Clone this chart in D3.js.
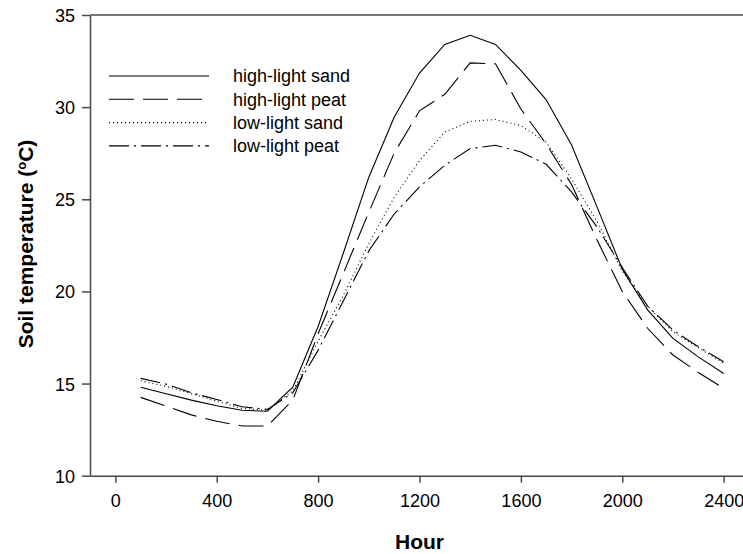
<!DOCTYPE html>
<meta charset="utf-8">
<style>
  body { margin: 0; background: #fff; }
  text { font-family: "Liberation Sans", Arial, sans-serif; fill: #000; }
  .tick text { font-size: 18px; }
  .axis path, .axis line { stroke: #4a4a4a; stroke-width: 1.5px; }
  .title { font-size: 21px; font-weight: bold; }
  .legend text { font-size: 18px; }
  .series { fill: none; stroke: #000; stroke-width: 1.1px; }
</style>
<body>
<script src="https://d3js.org/d3.v7.min.js"></script>
<script>
  // hours of the day (24h clock)
  var hours = [100, 200, 300, 400, 500, 600, 700, 800, 900, 1000, 1100, 1200,
               1300, 1400, 1500, 1600, 1700, 1800, 1900, 2000, 2100, 2200, 2300, 2400];

  // soil temperature, deg C
  var highSand = [14.8, 14.45, 14.1, 13.8, 13.55, 13.5, 14.8, 18.1, 22.1, 26.2, 29.45, 31.85,
                  33.4, 33.9, 33.4, 32.0, 30.4, 27.95, 24.6, 21.2, 19.0, 17.45, 16.45, 15.55];
  var highPeat = [14.25, 13.78, 13.3, 12.95, 12.7, 12.7, 14.1, 17.7, 21.0, 24.3, 27.5, 29.8,
                  30.7, 32.4, 32.35, 29.9, 28.0, 25.8, 22.8, 20.0, 18.0, 16.55, 15.6, 14.75];
  var lowSand  = [15.15, 14.85, 14.45, 14.05, 13.65, 13.55, 14.6, 17.3, 19.8, 22.6, 25.1, 27.1,
                  28.65, 29.23, 29.33, 29.0, 28.1, 26.1, 23.8, 21.1, 19.2, 17.8, 16.95, 16.1];
  var lowPeat  = [15.28, 14.97, 14.5, 14.14, 13.74, 13.6, 14.5, 16.8, 19.5, 22.2, 24.2, 25.67,
                  26.85, 27.75, 27.93, 27.57, 26.9, 25.4, 23.5, 21.3, 19.2, 17.9, 17.0, 16.18];

  var seriesNames = ["high-light sand", "high-light peat", "low-light sand", "low-light peat"];
  var seriesDash = [null, "25,9", "1,3", "20,5,2,5"];

  var xTicks = [0, 400, 800, 1200, 1600, 2000, 2400];
  var yTicks = [10, 15, 20, 25, 30, 35];

  var width = 743, height = 554;
  var margin = { top: 15, left: 90, bottom: 78 };

  var svg = d3.select("body").append("svg")
    .attr("width", width)
    .attr("height", height);

  // x runs a bit past 2400, the right edge of the frame is cut off by the window
  var x = d3.scaleLinear().domain([-100, 2500]).range([margin.left, 749]);
  var y = d3.scaleLinear().domain([10, 35]).range([height - margin.bottom - 0.3, margin.top]);

  // top frame line
  svg.append("line")
    .attr("x1", margin.left).attr("x2", 749)
    .attr("y1", y(35)).attr("y2", y(35))
    .attr("stroke", "#4a4a4a").attr("stroke-width", 1.5);

  var xAxis = svg.append("g")
    .attr("class", "axis")
    .attr("transform", "translate(0," + y(10) + ")")
    .call(d3.axisBottom(x).tickValues(xTicks).tickSizeInner(7).tickSizeOuter(0).tickPadding(12)
      .tickFormat(d3.format("d")));

  var yAxis = svg.append("g")
    .attr("class", "axis")
    .attr("transform", "translate(" + margin.left + ",0)")
    .call(d3.axisLeft(y).tickValues(yTicks).tickSizeInner(8).tickSizeOuter(0).tickPadding(7));

  svg.selectAll(".tick text").attr("fill", "#000");
  yAxis.selectAll(".tick text").attr("dy", "0.36em");

  // axis titles
  svg.append("text")
    .attr("class", "title")
    .attr("x", x(1200))
    .attr("y", 549)
    .attr("text-anchor", "middle")
    .text("Hour");

  var yt = svg.append("text")
    .attr("class", "title")
    .attr("transform", "translate(33,244) rotate(-90)")
    .attr("text-anchor", "middle");
  yt.append("tspan").text("Soil temperature (");
  yt.append("tspan").attr("font-size", "13px").attr("baseline-shift", "7").text("o");
  yt.append("tspan").text("C)");

  // series lines
  var allSeries = [highSand, highPeat, lowSand, lowPeat];
  var line = d3.line()
    .x(function (d, i) { return x(hours[i]); })
    .y(function (d) { return y(d); });

  svg.selectAll(".series")
    .data(allSeries)
    .enter().append("path")
    .attr("class", "series")
    .attr("stroke-dasharray", function (d, i) { return seriesDash[i]; })
    .attr("d", line);

  // legend
  var legend = svg.append("g").attr("class", "legend");
  seriesNames.forEach(function (name, i) {
    var ly = 76 + i * 23.3;
    legend.append("line")
      .attr("x1", 109).attr("x2", 209)
      .attr("y1", ly).attr("y2", ly)
      .attr("class", "series")
      .attr("stroke-dasharray", seriesDash[i]);
    legend.append("text")
      .attr("x", 233)
      .attr("y", ly)
      .attr("dy", "0.36em")
      .text(name);
  });
</script>
</body>
